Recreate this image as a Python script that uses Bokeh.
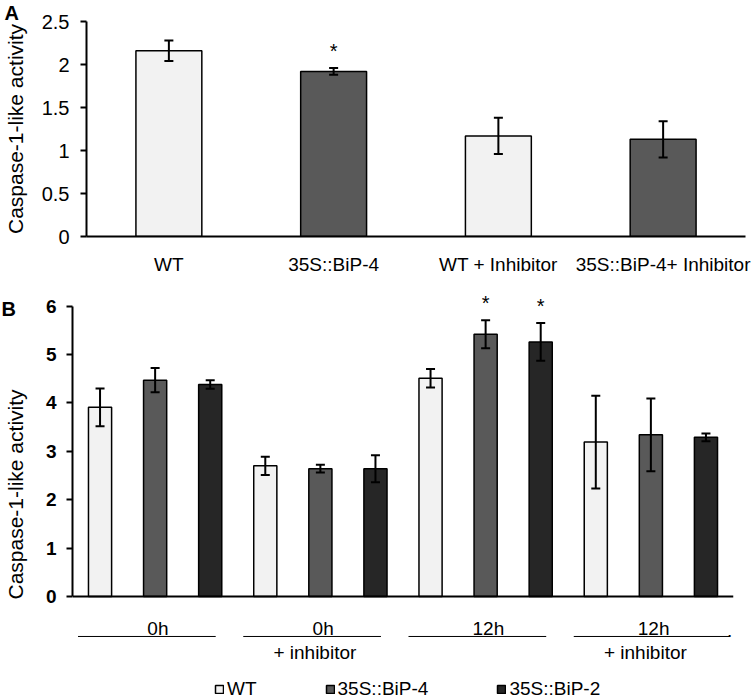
import numpy as np
from bokeh.plotting import figure
from bokeh.models import (ColumnDataSource, Whisker, TeeHead, FactorRange, Range1d,
                          FixedTicker, Legend, LegendItem, CustomJSTickFormatter)
from bokeh.layouts import column
from bokeh.core.properties import value
from bokeh.embed import file_html
from bokeh.resources import INLINE

FONT = "Liberation Sans"

# ---------------- Panel A data ----------------
a_categories = ["WT", "35S::BiP-4", "WT + Inhibitor", "35S::BiP-4+ Inhibitor"]
a_values = [2.16, 1.92, 1.17, 1.13]
a_errors = [0.12, 0.04, 0.21, 0.21]
a_marks = ["", "*", "", ""]
a_ticks = [0, 0.5, 1, 1.5, 2, 2.5]

# ---------------- Panel B data ----------------
b_groups = ["0h", "0h", "12h", "12h"]
b_group_notes = ["", "+ inhibitor", "", "+ inhibitor"]
b_series = ["WT", "35S::BiP-4", "35S::BiP-2"]
wt_values = [3.91, 2.70, 4.51, 3.19]
wt_errors = [0.39, 0.19, 0.19, 0.96]
bip4_values = [4.47, 2.64, 5.42, 3.34]
bip4_errors = [0.25, 0.08, 0.29, 0.75]
bip2_values = [4.38, 2.64, 5.26, 3.29]
bip2_errors = [0.09, 0.28, 0.39, 0.08]
wt_marks = ["", "", "", ""]
bip4_marks = ["", "", "*", ""]
bip2_marks = ["", "", "*", ""]
b_ticks = [0, 1, 2, 3, 4, 5, 6]

LIGHT, MID, DARK = "#f2f2f2", "#595959", "#262626"
YLABEL = "Caspase-1-like activity"


def style_common(p, letter, left, standoff, valign):
    p.outline_line_color = None
    p.grid.visible = False
    p.background_fill_color = "white"
    p.border_fill_color = "white"
    p.title.text = letter
    p.title.align = "left"
    p.title.offset = -left
    p.title.text_font = FONT
    p.title.text_font_style = "bold"
    p.title.text_font_size = "20px"
    p.title.text_color = "black"
    p.title.vertical_align = valign
    p.title.standoff = standoff


def whisker(src, head=9):
    return Whisker(base="x", upper="upper", lower="lower", source=src, level="overlay",
                   line_width=2, line_color="black",
                   upper_head=TeeHead(size=head, line_width=2, line_color="black"),
                   lower_head=TeeHead(size=head, line_width=2, line_color="black"))


def style_yaxis(ax, tick_size, bold, tick_standoff, label_standoff):
    ax.axis_label = YLABEL
    ax.axis_label_text_font = FONT
    ax.axis_label_text_font_size = "21px"
    ax.axis_label_text_font_style = "normal"
    ax.axis_label_text_color = "black"
    ax.axis_label_standoff = label_standoff
    ax.major_label_text_font = FONT
    ax.major_label_text_font_size = tick_size
    ax.major_label_text_font_style = "bold" if bold else "normal"
    ax.major_label_text_color = "black"
    ax.major_label_standoff = tick_standoff
    ax.major_tick_out = 6
    ax.major_tick_in = 0
    ax.minor_tick_out = 0
    ax.minor_tick_in = 0
    ax.axis_line_width = 2
    ax.major_tick_line_width = 2
    ax.axis_line_color = "black"
    ax.major_tick_line_color = "black"


# ================= Panel A =================
A_LEFT = 82
pa = figure(x_range=FactorRange(factors=a_categories), y_range=Range1d(0, 2.5),
            width=754, height=284, output_backend="svg", toolbar_location=None,
            frame_align=False,
            min_border_left=A_LEFT, min_border_right=9, min_border_top=21, min_border_bottom=48)
style_common(pa, "A", A_LEFT, -9, "top")

src_a = ColumnDataSource(dict(
    x=a_categories, top=a_values,
    upper=[v + e for v, e in zip(a_values, a_errors)],
    lower=[v - e for v, e in zip(a_values, a_errors)],
    color=[LIGHT, MID, LIGHT, MID], mark=a_marks))
pa.vbar(x="x", top="top", width=0.40, source=src_a, fill_color="color",
        line_color="black", line_width=1.5)
pa.add_layout(whisker(src_a))
pa.text(x="x", y="upper", text="mark", source=src_a, y_offset=-17,
        text_align="center", text_baseline="middle", text_font=value(FONT),
        text_font_size="20px", text_color="black")

ya = pa.yaxis[0]
ya.ticker = FixedTicker(ticks=a_ticks)
ya.formatter = CustomJSTickFormatter(code="return tick.toString()")
style_yaxis(ya, "20px", False, 11, 12)

xa = pa.xaxis[0]
xa.major_tick_out = 0
xa.major_tick_in = 0
xa.axis_line_width = 2
xa.axis_line_color = "black"
xa.major_label_text_font = FONT
xa.major_label_text_font_size = "19px"
xa.major_label_text_color = "black"
xa.major_label_standoff = 17

# ================= Panel B =================
B_LEFT = 71
n_groups = len(b_groups)
n_series = len(b_series)
pb = figure(x_range=Range1d(0, n_groups * n_series), y_range=Range1d(-2.128, 6.343),
            width=754, height=415, output_backend="svg", toolbar_location=None,
            x_axis_type=None, frame_align=False,
            min_border_left=B_LEFT, min_border_right=21, min_border_top=5, min_border_bottom=0)
style_common(pb, "B", B_LEFT, -60, "bottom")

series_values = [wt_values, bip4_values, bip2_values]
series_errors = [wt_errors, bip4_errors, bip2_errors]
series_marks = [wt_marks, bip4_marks, bip2_marks]
series_colors = [LIGHT, MID, DARK]

legend_items = []
for s in range(n_series):
    xs = [n_series * g + s + 0.5 for g in range(n_groups)]
    vals = series_values[s]
    errs = series_errors[s]
    src = ColumnDataSource(dict(
        x=xs, top=vals,
        upper=[v + e for v, e in zip(vals, errs)],
        lower=[v - e for v, e in zip(vals, errs)],
        mark=series_marks[s]))
    r = pb.vbar(x="x", top="top", width=0.42, source=src, fill_color=series_colors[s],
                line_color="black", line_width=1.5)
    pb.add_layout(whisker(src))
    pb.text(x="x", y="upper", text="mark", source=src, y_offset=-17,
            text_align="center", text_baseline="middle", text_font=value(FONT),
            text_font_size="20px", text_color="black")
    legend_items.append(LegendItem(label=b_series[s], renderers=[r]))

# baseline (x axis line)
pb.segment(x0=[0], y0=[0], x1=[n_groups * n_series], y1=[0], line_color="black", line_width=2)

# group labels under the axis
gx = np.arange(n_groups) * n_series
line_end = gx + 2.6
line_end[-1] = n_groups * n_series - 0.07
pb.segment(x0=gx + 0.1, y0=[-0.826] * n_groups, x1=line_end, y1=[-0.826] * n_groups,
           line_color="black", line_width=1)
pb.text(x=gx + 1.55, y=[-0.661] * n_groups, text=b_groups, text_align="center",
        text_baseline="middle", text_font=value(FONT), text_font_size="19px",
        text_color="black")
pb.text(x=gx + 1.4, y=[-1.157] * n_groups, text=b_group_notes, text_align="center",
        text_baseline="middle", text_font=value(FONT), text_font_size="19px",
        text_color="black")
pb.text(x=[line_end[-1]], y=[-0.70], text=["."], text_align="center",
        text_baseline="middle", text_font=value(FONT), text_font_size="19px",
        text_color="black")

yb = pb.yaxis[0]
yb.ticker = FixedTicker(ticks=b_ticks)
yb.bounds = (0, 6)
style_yaxis(yb, "19px", True, 10, 16)

legend = Legend(items=legend_items, orientation="horizontal", location=(142, -1),
                padding=0, margin=0, spacing=68, glyph_width=10, glyph_height=10,
                label_standoff=3, label_text_font=FONT, label_text_font_size="19px",
                label_text_color="black", border_line_color=None,
                background_fill_alpha=0)
pb.add_layout(legend)

layout = column(pa, pb, spacing=0)
open("out.html", "w").write(file_html(layout, INLINE))
